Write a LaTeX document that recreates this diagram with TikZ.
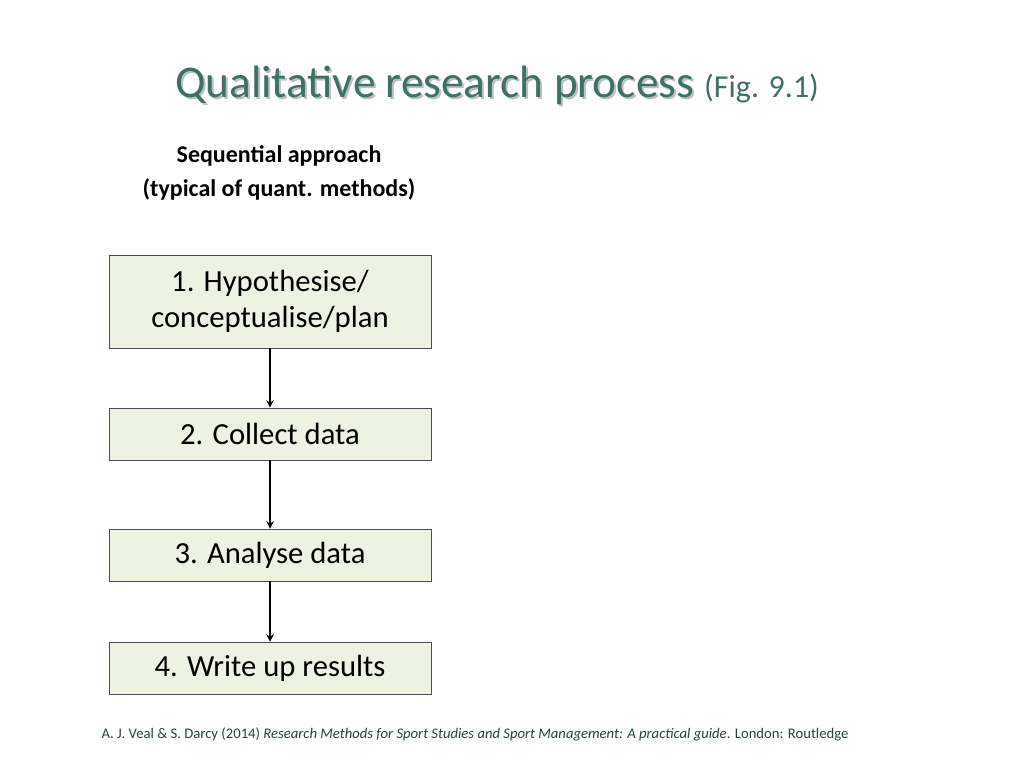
\documentclass[tikz,border=0pt]{standalone}
\usepackage{fontspec}
\setmainfont{Carlito}
\usetikzlibrary{positioning}
\definecolor{titlegreen}{HTML}{3C7165}
\definecolor{boxfill}{HTML}{EEF2E3}
\begin{document}
\begin{tikzpicture}[x=0.75pt, y=-0.75pt,
		StepBox/.style = {
			draw=black!70,
			fill=boxfill,
			minimum width=322*0.75pt,
			align=center,
			font=\fontsize{23}{27}\selectfont
		},
		StepArrow/.style = {->, >=stealth, line width=1.5pt}
	]
	\useasboundingbox (0,0) rectangle (1024,768);
	% title with soft shadow
	\node (shadow) [anchor=base, text=black!25] at (499,99) {\fontsize{34}{40}\selectfont Qualitative research process \fontsize{24}{28}\selectfont\phantom{(Fig. 9.1)}};
	\node (title) [anchor=base, text=titlegreen] at (497,97) {\fontsize{34}{40}\selectfont Qualitative research process \fontsize{24}{28}\selectfont(Fig. 9.1)};
	\node (head) [align=center, font=\bfseries\fontsize{18}{25}\selectfont] at (279,173) {Sequential approach\\(typical of quant. methods)};
	
	\node (s1) [StepBox, minimum height=93*0.75pt] at (270,301.5) {1. Hypothesise/\\conceptualise/plan};
	\node (s2) [StepBox, minimum height=52*0.75pt] at (270,434) {2. Collect data};
	\node (s3) [StepBox, minimum height=52*0.75pt] at (270,555) {3. Analyse data};
	\node (s4) [StepBox, minimum height=52*0.75pt] at (270,668) {4. Write up results};
	\draw[StepArrow] (s1) -- (s2);
	\draw[StepArrow] (s2) -- (s3);
	\draw[StepArrow] (s3) -- (s4);
	
	\node (cite) [anchor=base, text=titlegreen!60!black, font=\fontsize{11}{13}\selectfont] at (475,738) {A. J. Veal \& S. Darcy (2014) \textit{Research Methods for Sport Studies and Sport Management: A practical guide}. London: Routledge};
\end{tikzpicture}
\end{document}
